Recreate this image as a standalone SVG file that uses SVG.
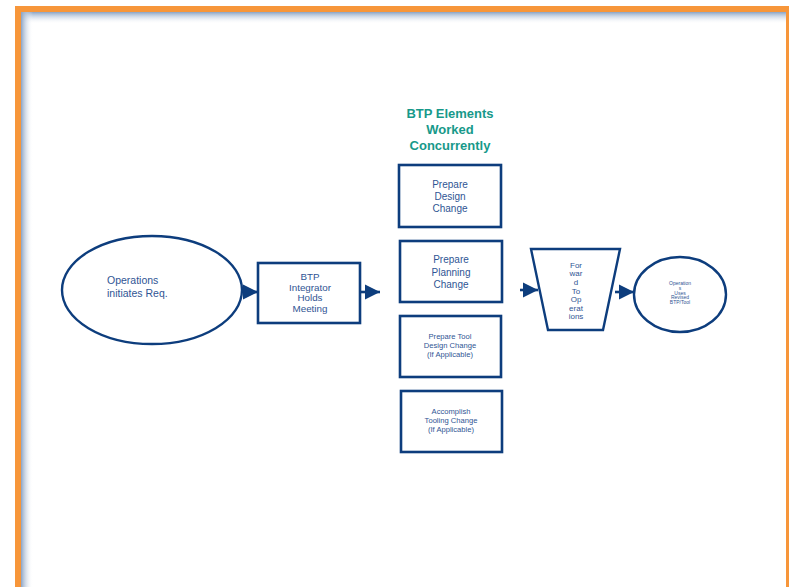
<svg xmlns="http://www.w3.org/2000/svg" width="789" height="587" viewBox="0 0 789 587">
<style>
.box{fill:#fff;stroke:#0d3d7d;stroke-width:2.6}
.shape{fill:#fff;stroke:#0d3d7d;stroke-width:2.4}
.t{font-family:"Liberation Sans",Arial,sans-serif;fill:#2f5594;text-anchor:middle}
.title{font-family:"Liberation Sans",Arial,sans-serif;fill:#17998a;font-weight:bold;font-size:13px;text-anchor:middle}
.conn{stroke:#0d3d7d;stroke-width:2.6;fill:none;marker-end:url(#ah)}
</style>
<defs>
<marker id="ah" markerUnits="userSpaceOnUse" markerWidth="16" markerHeight="16" viewBox="0 0 16 16" refX="15" refY="8" orient="auto">
<path d="M0,0.5 L15,8 L0,15.5 Z" fill="#0d3d7d"/>
</marker>
<linearGradient id="gl" x1="0" y1="0" x2="1" y2="0">
<stop offset="0" stop-color="#8aa3c4"/><stop offset="1" stop-color="#ffffff" stop-opacity="0"/>
</linearGradient>
<linearGradient id="gt" x1="0" y1="0" x2="0" y2="1">
<stop offset="0" stop-color="#8aa3c4"/><stop offset="1" stop-color="#ffffff" stop-opacity="0"/>
</linearGradient>
</defs>
<rect width="789" height="587" fill="#fff"/>
<g id="frame">
<rect x="21" y="12" width="765" height="12" fill="url(#gt)"/>
<rect x="21" y="12" width="12" height="575" fill="url(#gl)"/>
<rect x="18" y="9" width="771" height="600" fill="none" stroke="#f7963a" stroke-width="6"/>
</g>
<g id="connectors">
<path class="conn" d="M243,292 L258,292"/>
<path class="conn" d="M361,292 L380,292"/>
<path class="conn" d="M520,290 L538,290"/>
<path class="conn" d="M615,292 L634,292"/>
</g>
<g id="title">
<text class="title" x="450" y="118">BTP Elements</text>
<text class="title" x="450" y="134">Worked</text>
<text class="title" x="450" y="150">Concurrently</text>
</g>
<g id="ops-initiates">
<ellipse class="shape" cx="152" cy="290" rx="90" ry="54"/>
<text class="t" style="text-anchor:start" font-size="10.5" x="107" y="284">Operations</text>
<text class="t" style="text-anchor:start" font-size="10.5" x="107" y="297">initiates Req.</text>
</g>
<g id="btp-integrator">
<rect class="box" x="258" y="263" width="102" height="60"/>
<text class="t" font-size="9.8" x="310" y="280">BTP</text>
<text class="t" font-size="9.8" x="310" y="290.5">Integrator</text>
<text class="t" font-size="9.8" x="310" y="301">Holds</text>
<text class="t" font-size="9.8" x="310" y="311.5">Meeting</text>
</g>
<g id="design-change">
<rect class="box" x="399" y="165" width="102" height="62"/>
<text class="t" font-size="10" x="450" y="188">Prepare</text>
<text class="t" font-size="10" x="450" y="200">Design</text>
<text class="t" font-size="10" x="450" y="212">Change</text>
</g>
<g id="planning-change">
<rect class="box" x="400" y="241" width="102" height="61"/>
<text class="t" font-size="10" x="451" y="263">Prepare</text>
<text class="t" font-size="10" x="451" y="276">Planning</text>
<text class="t" font-size="10" x="451" y="288">Change</text>
</g>
<g id="tool-design">
<rect class="box" x="400" y="316" width="101" height="61"/>
<text class="t" font-size="7.6" x="450" y="339">Prepare Tool</text>
<text class="t" font-size="7.6" x="450" y="348">Design Change</text>
<text class="t" font-size="7.6" x="450" y="357">(If Applicable)</text>
</g>
<g id="tooling-change">
<rect class="box" x="401" y="391" width="101" height="61"/>
<text class="t" font-size="7.6" x="451" y="414">Accomplish</text>
<text class="t" font-size="7.6" x="451" y="423">Tooling Change</text>
<text class="t" font-size="7.6" x="451" y="432">(If Applicable)</text>
</g>
<g id="forward">
<polygon class="shape" points="531,249 620,249 603,330 548,330"/>
<text class="t" font-size="8" x="576" y="268">For</text>
<text class="t" font-size="8" x="576" y="276">war</text>
<text class="t" font-size="8" x="576" y="285">d</text>
<text class="t" font-size="8" x="576" y="294">To</text>
<text class="t" font-size="8" x="576" y="302">Op</text>
<text class="t" font-size="8" x="576" y="311">erat</text>
<text class="t" font-size="8" x="576" y="319">ions</text>
</g>
<g id="ops-uses">
<ellipse class="shape" cx="680" cy="294.5" rx="46" ry="37.5"/>
<text class="t" font-size="5" x="680" y="285">Operation</text>
<text class="t" font-size="5" x="680" y="290">s</text>
<text class="t" font-size="5" x="680" y="294.5">Uses</text>
<text class="t" font-size="5" x="680" y="299">Revised</text>
<text class="t" font-size="5" x="680" y="304">BTP/Tool</text>
</g>
</svg>
